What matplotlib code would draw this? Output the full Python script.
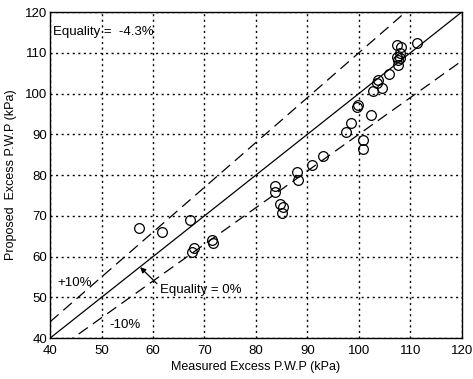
import matplotlib.pyplot as plt
import numpy as np

plt.rcParams['font.family'] = ['Liberation Sans Narrow', 'Liberation Sans', 'DejaVu Sans']

# measured vs proposed excess pore water pressure (kPa)
measured = [57.2, 61.7, 67.2, 67.6, 68.0, 71.5, 71.7, 83.7, 83.7, 85.2, 85.0, 84.6,
            88.0, 88.2, 90.9, 93.0, 97.5, 98.4, 99.6, 99.8, 102.3, 100.8, 100.8,
            102.7, 103.7, 103.5, 104.5, 105.8, 107.4, 108.3, 108.0, 107.6, 107.6,
            108.0, 111.3, 107.4]
proposed = [67.0, 66.0, 69.0, 61.2, 62.0, 64.0, 63.3, 77.3, 75.8, 72.1, 70.7, 73.0,
            80.7, 78.8, 82.5, 84.7, 90.6, 92.8, 96.7, 97.2, 94.7, 88.6, 86.4,
            100.6, 103.3, 102.6, 101.3, 104.8, 111.9, 111.4, 109.9, 108.2, 107.0,
            108.7, 112.4, 109.0]

ticks = [40, 50, 60, 70, 80, 90, 100, 110, 120]

fig = plt.figure(figsize=(4.73, 3.79), dpi=100)
ax = fig.add_axes([0.106, 0.108, 0.870, 0.860])

xs = np.array([40, 120])
ax.plot(xs, xs, color='black', lw=0.9)
ax.plot(xs, 1.1 * xs, color='black', lw=0.9, dashes=(9, 5))
ax.plot(xs, 0.9 * xs, color='black', lw=0.9, dashes=(9, 5))

ax.plot(measured, proposed, 'o', mfc='none', mec='black', ms=7, mew=0.9)

ax.set_xlim(40, 120)
ax.set_ylim(40, 120)
ax.set_xticks(ticks)
ax.set_yticks(ticks)
ax.grid(True, color='black', linestyle=(0, (1.5, 2.5)), lw=1.0)
ax.tick_params(length=0, labelsize=9.5)
ax.tick_params(axis='x', pad=5)
ax.tick_params(axis='y', pad=2)
for s in ax.spines.values():
    s.set_linewidth(1.0)

ax.set_xlabel('Measured Excess P.W.P (kPa)', fontsize=9, labelpad=3)
ax.set_ylabel('Proposed  Excess P.W.P (kPa)', fontsize=9, labelpad=6)

ax.text(40.5, 115, 'Equality =  -4.3%', fontsize=9.5, va='center')
ax.text(41.5, 53.5, '+10%', fontsize=9.5, va='center')
ax.text(51.5, 43.2, '-10%', fontsize=9.5, va='center')
ax.annotate('Equality = 0%', xy=(57.5, 57.4), xytext=(61.3, 51.8), fontsize=9.5, va='center',
            arrowprops=dict(arrowstyle='-|>', color='black', lw=0.9, shrinkA=0, shrinkB=0,
                            mutation_scale=8, relpos=(0, 0.8)))

fig.savefig('out.png', dpi=100)
